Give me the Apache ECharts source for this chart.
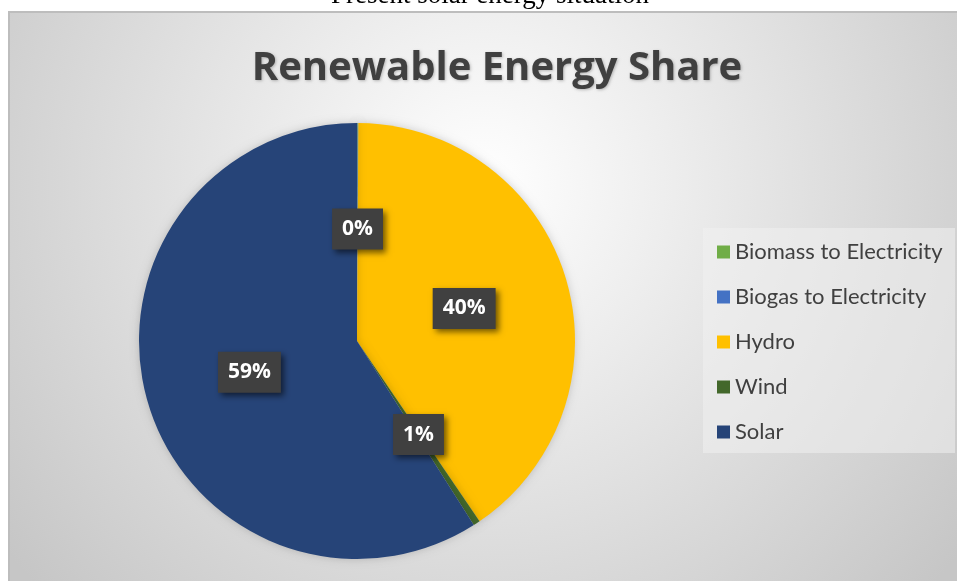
<!DOCTYPE html>
<html>
<head>
<meta charset="utf-8">
<script src="https://cdn.jsdelivr.net/npm/echarts@6/dist/echarts.min.js"></script>
<style>
html,body{margin:0;padding:0;background:#fff;}
#chart{width:957px;height:581px;}
</style>
</head>
<body>
<div id="chart"></div>
<script>
const caption = "Present solar energy situation";
const chartTitle = "Renewable Energy Share";
const categories = ["Biomass to Electricity", "Biogas to Electricity", "Hydro", "Wind", "Solar"];
const shares = [0.05, 0.05, 40.4, 0.5, 59.0];
const colors = ["#70AD47", "#4472C4", "#FFC000", "#43682B", "#264478"];
const showLabel = [false, true, true, true, true];

const chart = echarts.init(document.getElementById('chart'), null, {renderer: 'canvas'});

const data = categories.map((name, i) => ({
  name: name,
  value: shares[i],
  itemStyle: {color: colors[i]},
  label: {show: showLabel[i]}
}));

const option = {
  backgroundColor: '#ffffff',
  animation: false,
  graphic: [
    {
      type: 'rect', z: -10, silent: true,
      shape: {x: 9, y: 12, width: 950, height: 572},
      style: {
        fill: new echarts.graphic.RadialGradient(0.5, 0.3, 1.05, [
          {offset: 0, color: '#ffffff'},
          {offset: 1, color: '#c6c6c6'}
        ]),
        stroke: '#bdbdbd', lineWidth: 2
      }
    },
    {
      type: 'text', z: 10, silent: true,
      x: 490, y: -4,
      style: {
        text: caption, fill: '#000', font: '27px "Liberation Serif", "DejaVu Serif", serif',
        align: 'center', verticalAlign: 'middle'
      }
    },
    {
      type: 'rect', z: -5, silent: true,
      shape: {x: 703, y: 228, width: 252, height: 225},
      style: {fill: 'rgba(240,240,240,0.55)'}
    }
  ],
  title: {
    text: chartTitle,
    left: 492, top: 44, textAlign: 'center',
    textStyle: {
      fontFamily: '"Open Sans", sans-serif', fontWeight: 'bold', fontSize: 40,
      color: '#404040',
      textShadowColor: 'rgba(0,0,0,0.25)', textShadowBlur: 3, textShadowOffsetX: 1, textShadowOffsetY: 1
    }
  },
  legend: {
    orient: 'vertical',
    left: 704, top: 228,
    padding: [12, 10, 10, 13],
    itemWidth: 13, itemHeight: 13, itemGap: 21,
    icon: 'rect',
    data: categories,
    textStyle: {
      fontFamily: 'Lato, "Open Sans", sans-serif', fontSize: 22, color: '#404040', lineHeight: 24
    }
  },
  series: [{
    type: 'pie',
    center: [357, 341],
    radius: 218,
    startAngle: 90,
    clockwise: true,
    avoidLabelOverlap: false,
    itemStyle: {borderWidth: 0, shadowBlur: 8, shadowColor: 'rgba(0,0,0,0.18)'},
    label: {
      position: 'inside',
      formatter: p => Math.round(p.value) + '%',
      color: '#ffffff',
      fontFamily: '"Open Sans", sans-serif',
      fontWeight: 'bold',
      fontSize: 21,
      lineHeight: 22,
      backgroundColor: '#404040',
      padding: [10, 10, 9, 10],
      shadowColor: 'rgba(0,0,0,0.55)', shadowBlur: 6, shadowOffsetX: 3, shadowOffsetY: 3
    },
    labelLine: {show: false},
    emphasis: {disabled: true},
    data: data
  }]
};
chart.setOption(option);
</script>
</body>
</html>
